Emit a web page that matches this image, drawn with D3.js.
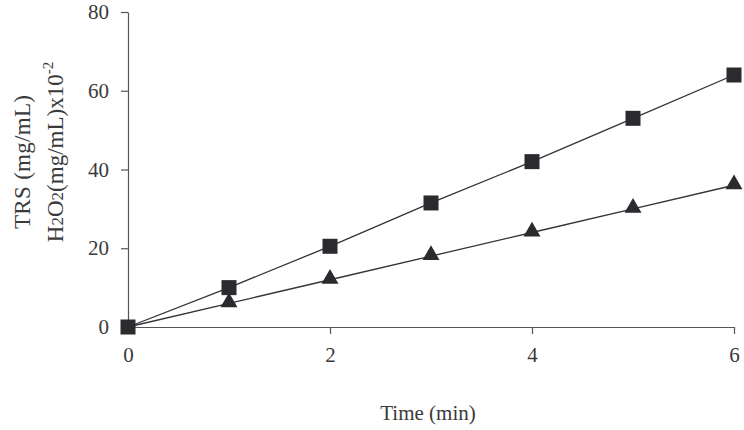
<!DOCTYPE html>
<html>
<head>
<meta charset="utf-8">
<script src="https://cdn.jsdelivr.net/npm/d3@7"></script>
<style>
  body { margin: 0; background: #fff; }
  text { font-family: "Liberation Serif", "Times New Roman", serif; fill: #3a3a3a; }
</style>
</head>
<body>
<div id="chart-container"></div>
<script>
// data
const times = [0, 1, 2, 3, 4, 5, 6];
const trsValues = [0, 10, 20.5, 31.5, 42, 53, 64];
const h2o2Values = [0, 6, 12, 18, 24, 30, 36];
const xTicks = [0, 2, 4, 6];
const yTicks = [0, 20, 40, 60, 80];

// Set the dimensions and margins of the graph
const margin = { top: 12, right: 10, bottom: 103, left: 128 };
const width = 734 - margin.left;
const height = 327 - margin.top;

const svg = d3
  .select("#chart-container")
  .append("svg")
  .attr("width", 744)
  .attr("height", 430)
  .append("g")
  .attr("transform", `translate(${margin.left},${margin.top})`);

// Scales
const xScale = d3.scaleLinear().domain([0, 6]).range([0, width]);
const yScale = d3.scaleLinear().domain([0, 80]).range([height, 0]);

// Axes
const xAxis = svg
  .append("g")
  .attr("transform", `translate(0,${height})`)
  .call(d3.axisBottom(xScale).tickValues(xTicks).tickFormat(d3.format("d")).tickSize(7).tickPadding(13).tickSizeOuter(0));
const yAxis = svg
  .append("g")
  .call(d3.axisLeft(yScale).tickValues(yTicks).tickFormat(d3.format("d")).tickSize(7).tickPadding(12).tickSizeOuter(0));

[xAxis, yAxis].forEach((g) => {
  g.select(".domain").attr("stroke", "#555").attr("stroke-width", 1.2);
  g.selectAll(".tick line").attr("stroke", "#555").attr("stroke-width", 1.2);
  g.selectAll(".tick text")
    .attr("font-family", "Liberation Serif, serif")
    .attr("font-size", 21)
    .attr("fill", "#3a3a3a");
});

// Lines
const line = (vals) =>
  d3
    .line()
    .x((d, i) => xScale(times[i]))
    .y((d) => yScale(d))(vals);

svg
  .append("path")
  .attr("d", line(trsValues))
  .attr("fill", "none")
  .attr("stroke", "#333")
  .attr("stroke-width", 1.3);
svg
  .append("path")
  .attr("d", line(h2o2Values))
  .attr("fill", "none")
  .attr("stroke", "#333")
  .attr("stroke-width", 1.3);

// Markers
svg
  .selectAll(".sq")
  .data(trsValues)
  .join("rect")
  .attr("class", "sq")
  .attr("x", (d, i) => xScale(times[i]) - 7.5)
  .attr("y", (d) => yScale(d) - 7.5)
  .attr("width", 15)
  .attr("height", 15)
  .attr("fill", "#2b2b2f");

const tri = d3.symbol().type(d3.symbolTriangle).size(125);
svg
  .selectAll(".tri")
  .data(h2o2Values.slice(1))
  .join("path")
  .attr("class", "tri")
  .attr("d", tri)
  .attr("transform", (d, i) => `translate(${xScale(times[i + 1])},${yScale(d) - 1})`)
  .attr("fill", "#2b2b2f");

// Axis titles
svg
  .append("text")
  .attr("x", width / 2 - 3)
  .attr("y", 420 - margin.top)
  .attr("text-anchor", "middle")
  .attr("font-size", 21)
  .text("Time (min)");

svg
  .append("text")
  .attr("transform", `translate(${30 - margin.left},${162 - margin.top}) rotate(-90)`)
  .attr("text-anchor", "middle")
  .attr("font-size", 23)
  .attr("textLength", 134)
  .text("TRS (mg/mL)");

const h2 = svg
  .append("text")
  .attr("transform", `translate(${63 - margin.left},${152 - margin.top}) rotate(-90)`)
  .attr("text-anchor", "middle")
  .attr("font-size", 23);
h2.append("tspan").text("H");
h2.append("tspan").attr("font-size", 17).text("2");
h2.append("tspan").text("O");
h2.append("tspan").attr("font-size", 17).text("2");
h2.append("tspan").text("(mg/mL)x10");
h2.append("tspan").attr("font-size", 15).attr("dy", -10).text("-2");
</script>
</body>
</html>
